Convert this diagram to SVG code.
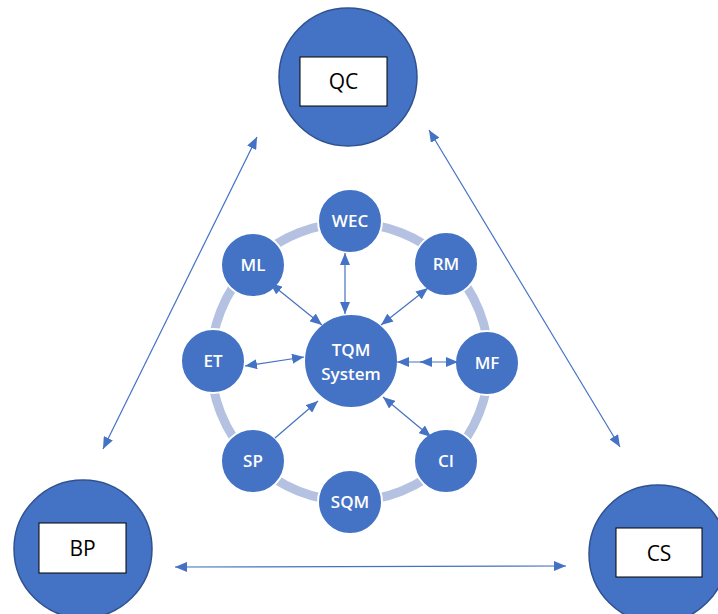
<svg xmlns="http://www.w3.org/2000/svg" width="718" height="614" viewBox="0 0 718 614">
<style>
.outer{fill:#4472C4;stroke:#2F528F;stroke-width:1.5}
.box{fill:#fff;stroke:#000;stroke-width:1}
.blab{font-family:"Open Sans","Liberation Sans",sans-serif;font-size:21px;fill:#000;text-anchor:middle}
.inner{fill:#4472C4;stroke:#fff;stroke-width:2}
.ilab{font-family:"Open Sans","Liberation Sans",sans-serif;font-size:17px;font-weight:600;fill:#fff;text-anchor:middle}
.con{stroke:#4472C4;stroke-width:1.2;fill:none}
.ring{fill:none;stroke:#B4C1E1;stroke-width:9}
</style>
<defs>
<marker id="ah" viewBox="0 0 12 10" refX="12" refY="5" markerWidth="12" markerHeight="10" markerUnits="userSpaceOnUse" orient="auto-start-reverse">
<path d="M0,0 L12,5 L0,10 Z" fill="#4472C4"/>
</marker>
</defs>
<circle class="ring" cx="350" cy="362" r="139"/>
<g id="QC"><circle class="outer" cx="348" cy="77" r="69"/><rect class="box" x="300" y="57" width="87" height="49"/><text class="blab" x="343.5" y="89">QC</text></g>
<g id="BP"><circle class="outer" cx="83" cy="549" r="69"/><rect class="box" x="39" y="523" width="87" height="50"/><text class="blab" x="82.5" y="556">BP</text></g>
<g id="CS"><circle class="outer" cx="658" cy="554" r="69"/><rect class="box" x="616" y="528" width="86" height="49"/><text class="blab" x="659" y="561">CS</text></g>
<g id="WEC"><circle class="inner" cx="350" cy="221" r="32"/><text class="ilab" x="350" y="227">WEC</text></g>
<g id="ML"><circle class="inner" cx="253" cy="265" r="32"/><text class="ilab" x="253" y="271">ML</text></g>
<g id="RM"><circle class="inner" cx="446" cy="264" r="32"/><text class="ilab" x="446" y="270">RM</text></g>
<g id="ET"><circle class="inner" cx="213" cy="361" r="32"/><text class="ilab" x="213" y="367">ET</text></g>
<g id="MF"><circle class="inner" cx="487" cy="363" r="32"/><text class="ilab" x="487" y="369">MF</text></g>
<g id="SP"><circle class="inner" cx="253" cy="461" r="32"/><text class="ilab" x="253" y="467">SP</text></g>
<g id="CI"><circle class="inner" cx="446" cy="461" r="32"/><text class="ilab" x="446" y="467">CI</text></g>
<g id="SQM"><circle class="inner" cx="350" cy="502" r="32"/><text class="ilab" x="350" y="508">SQM</text></g>
<g id="TQM"><circle class="inner" cx="351" cy="361" r="47"/><text class="ilab" x="351" y="356" font-size="18">TQM</text><text class="ilab" x="351" y="380" font-size="18">System</text></g>
<g id="connectors">
<line class="con" x1="345" y1="253" x2="345" y2="314" marker-start="url(#ah)" marker-end="url(#ah)"/>
<line class="con" x1="270" y1="283" x2="322" y2="325" marker-start="url(#ah)" marker-end="url(#ah)"/>
<line class="con" x1="428" y1="288" x2="381" y2="325" marker-start="url(#ah)" marker-end="url(#ah)"/>
<line class="con" x1="245" y1="366" x2="304" y2="357" marker-start="url(#ah)" marker-end="url(#ah)"/>
<line class="con" x1="275" y1="438" x2="318" y2="401" marker-end="url(#ah)"/>
<line class="con" x1="383" y1="397" x2="431" y2="437" marker-start="url(#ah)" marker-end="url(#ah)"/>
<line class="con" x1="397" y1="362" x2="458" y2="362" marker-start="url(#ah)" marker-end="url(#ah)"/>
<line class="con" x1="430" y1="362" x2="420" y2="362" marker-end="url(#ah)"/>
<line class="con" x1="257" y1="137" x2="103" y2="449" marker-start="url(#ah)" marker-end="url(#ah)"/>
<line class="con" x1="429" y1="130" x2="620" y2="447" marker-start="url(#ah)" marker-end="url(#ah)"/>
<line class="con" x1="175" y1="567" x2="566" y2="566" marker-start="url(#ah)" marker-end="url(#ah)"/>
</g>
</svg>
